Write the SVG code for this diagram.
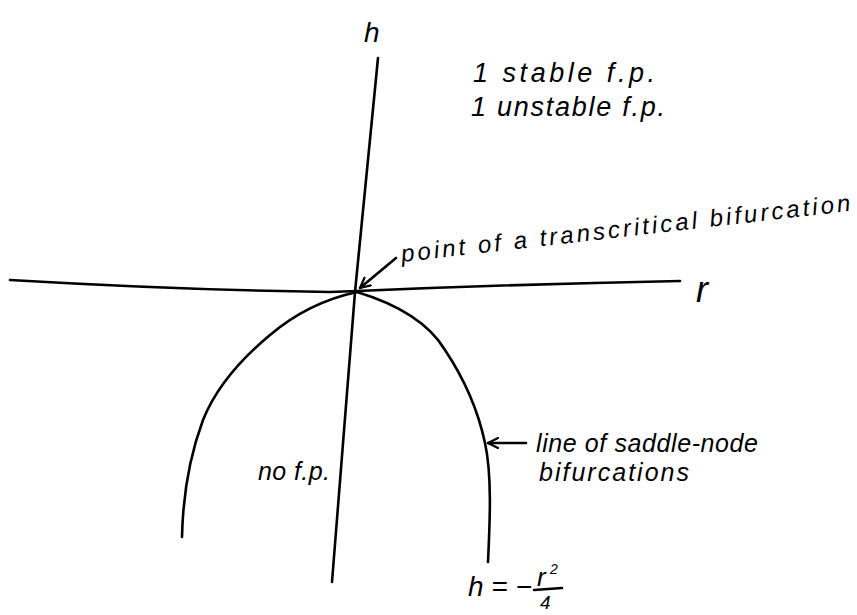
<svg xmlns="http://www.w3.org/2000/svg" width="857" height="615" viewBox="0 0 857 615">
<defs>
<style>
.ln{fill:none;stroke:#000;stroke-width:2.6;stroke-linecap:round;stroke-linejoin:round}
.t{font-family:"Liberation Sans",Arial,sans-serif;font-style:italic;fill:#000}
</style>
<marker id="ah" viewBox="0 0 12 12" refX="11" refY="6" markerWidth="12" markerHeight="12" markerUnits="userSpaceOnUse" orient="auto">
<path d="M1,1 L11,6 L1,11" fill="none" stroke="#000" stroke-width="2.2" stroke-linecap="round"/>
</marker>
</defs>
<rect width="857" height="615" fill="#fff"/>
<g id="axes">
<path class="ln" d="M378,58 L355,292 L332,582"/>
<path class="ln" d="M10,280 Q180,290 330,292 L357,291 Q520,284 680,281"/>
<text class="t" x="364" y="42" font-size="28" font-style="normal">h</text>
<text class="t" x="696" y="302" font-size="36" font-style="normal">r</text>
</g>
<g id="curve">
<path class="ln" d="M357,292 C320,300 290,318 270,335 C240,360 215,390 203,420 C190,455 183,490 182,537"/>
<path class="ln" d="M357,292 C400,305 430,325 445,350 C465,380 478,410 485,443 C492,475 490,520 488,562"/>
</g>
<g id="connectors">
<path class="ln" d="M396,258 L360,288" marker-end="url(#ah)"/>
<path class="ln" d="M526,443 L488,443" marker-end="url(#ah)"/>
</g>
<g id="labels">
<text class="t" x="473" y="82" font-size="27" textLength="182">1 stable f.p.</text>
<text class="t" x="471" y="116" font-size="27" textLength="194">1 unstable f.p.</text>
<text class="t" x="402" y="262" font-size="24" textLength="452" transform="rotate(-6.5 402 262)">point of a transcritical bifurcation</text>
<text class="t" x="536" y="452" font-size="25" textLength="222">line of saddle-node</text>
<text class="t" x="539" y="481" font-size="25" textLength="150">bifurcations</text>
<text class="t" x="258" y="480" font-size="25" textLength="72">no f.p.</text>
<text class="t" x="468" y="596" font-size="28" font-style="normal">h = −</text>
<text class="t" x="537" y="586" font-size="26" font-style="normal">r</text>
<text class="t" x="550" y="574" font-size="14" font-style="normal">2</text>
<line class="ln" x1="534" y1="590" x2="562" y2="588" stroke-width="2"/>
<text class="t" x="540" y="609" font-size="19" font-style="normal">4</text>
</g>
</svg>
